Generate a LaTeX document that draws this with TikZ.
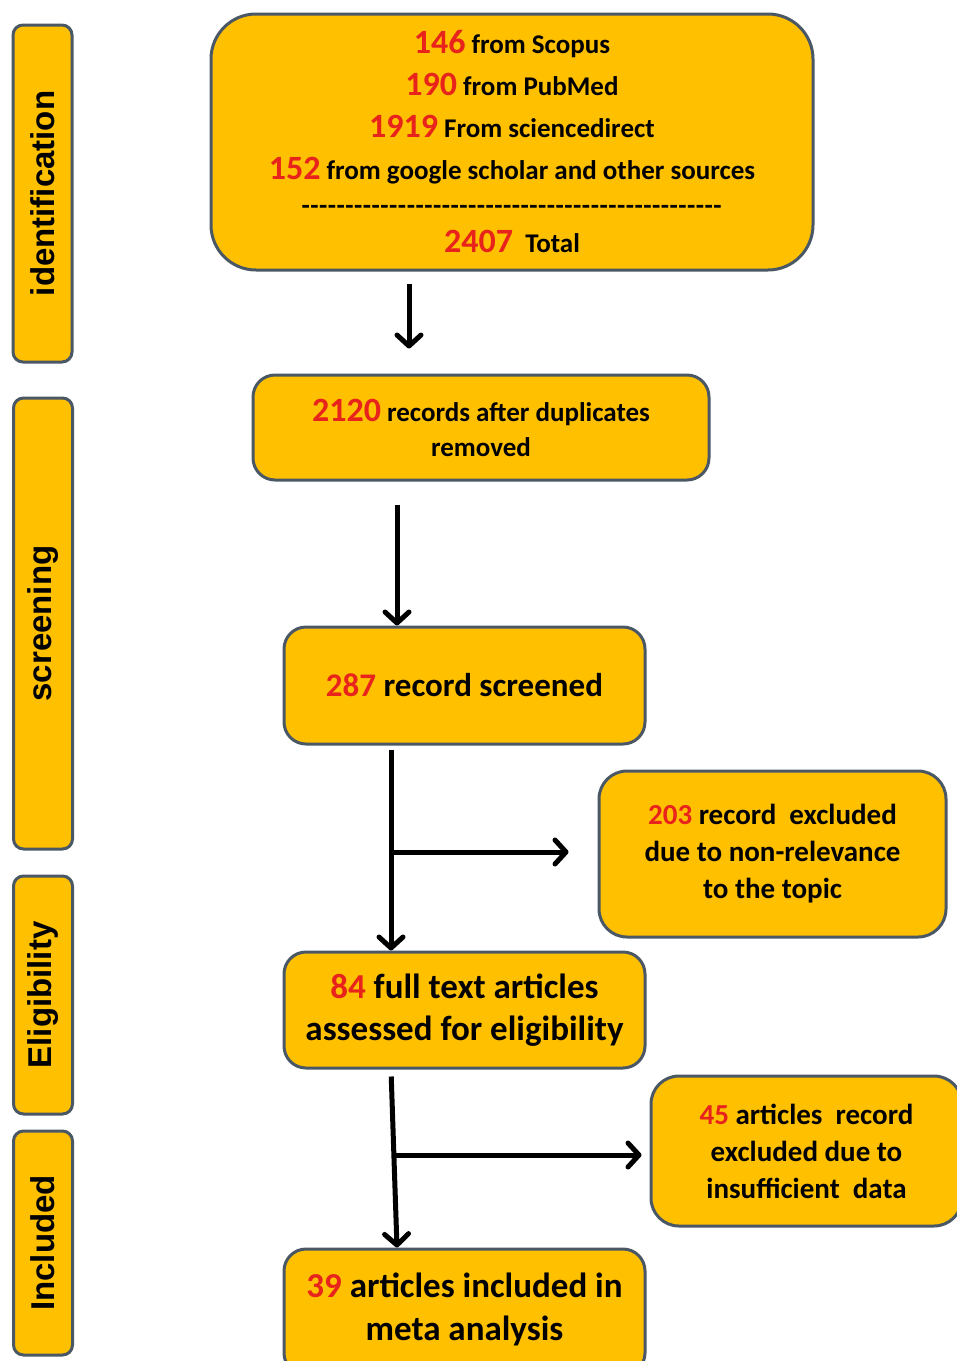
\documentclass[tikz,border=0pt]{standalone}
\usepackage{fontspec}
\setmainfont{Carlito}
\newfontfamily\barfont{Liberation Sans}
\usetikzlibrary{arrows.meta}
\definecolor{gold}{HTML}{FFC000}
\definecolor{edgegray}{HTML}{4A5866}
\definecolor{numred}{HTML}{E8231C}
\newcommand\nm[2]{{\fontsize{#1}{#1}\selectfont\color{numred}#2}}
\newcommand\dashrow{\foreach \i in {1,...,48}{-\kern0.5pt}}
\newcommand\fs[2]{\bfseries\fontsize{#1}{#2}\selectfont}
\begin{document}
\begin{tikzpicture}[x=1pt,y=-1pt,
  box/.style={draw=edgegray, line width=3pt, fill=gold, rounded corners=22pt,
    align=center, inner sep=0pt},
  bar/.style={box, rounded corners=10pt, rotate=90,
    font=\barfont\bfseries\fontsize{33}{33}\selectfont},
  arr/.style={line width=5pt, -{Straight Barb[round, length=11pt, width=24pt]}}]
\clip (0,0) rectangle (957,1361);
\fill[white] (0,0) rectangle (957,1361);
% phase bars
\node[bar, minimum width=337pt, minimum height=59pt] (b1) at (42.5,193.5) {identification};
\node[bar, minimum width=451pt, minimum height=59pt] (b2) at (43,623.5) {screening};
\node[bar, minimum width=238pt, minimum height=59pt] (b3) at (43,995) {Eligibility};
\node[bar, minimum width=224pt, minimum height=59pt] (b4) at (43,1243) {Included};
% boxes
\node[box, rounded corners=45pt, minimum width=602pt, minimum height=256pt, font=\fs{27}{42}] (src) at (512,142)
 {\nm{34}{146} from Scopus\\
  \nm{34}{190} from PubMed\\
  \nm{34}{1919} From sciencedirect\\
  \nm{34}{152} from google scholar and other sources\\[-7pt]
  \dashrow\\[-4pt]
  \nm{34}{2407}\ \ Total};
\node[box, minimum width=456pt, minimum height=105pt, font=\fs{27}{35}] (dup) at (481,427.5)
 {\nm{34}{2120} records after duplicates\\ removed};
\node[box, minimum width=361pt, minimum height=117pt, font=\fs{33}{40}] (scr) at (464.5,685.5)
 {\nm{33}{287} record screened};
\node[box, rounded corners=28pt, minimum width=347pt, minimum height=166pt, font=\fs{29}{37}] (exc1) at (772.5,854)
 {\nm{29}{203} record\ \ excluded\\ due to non-relevance\\ to the topic};
\node[box, minimum width=361pt, minimum height=116pt, font=\fs{35}{42}] (full) at (464.5,1010)
 {\nm{35}{84} full text articles\\ assessed for eligibility};
\node[box, rounded corners=28pt, minimum width=311pt, minimum height=150pt, font=\fs{29}{37}] (exc2) at (806.5,1151)
 {\nm{29}{45} articles\ \ record\\ excluded due to\\ insufficient\ \ data};
\node[box, minimum width=361pt, minimum height=126pt, font=\fs{35}{43}] (incl) at (464.5,1312)
 {\nm{35}{39} articles included in\\ meta analysis\rule[-11pt]{0pt}{0pt}};
% connector coordinates
\coordinate (c1) at (409,0);
\coordinate (c2) at (397,0);
\coordinate (c3) at (391,0);
\coordinate (c4) at (397,0);
\coordinate (j1) at (391,852);
\coordinate (j2) at (394,1155);
% connectors
\draw[arr, shorten <=12pt, shorten >=25pt] (src.south -| c1) -- (dup.north -| c1);
\draw[arr, shorten <=23pt] (dup.south -| c2) -- (scr.north -| c2);
\draw[arr, shorten <=4pt] (scr.south -| c3) -- (full.north -| c3);
\draw[arr, shorten >=29pt] (j1) -- (j1 -| exc1.west);
\draw[arr, shorten <=7pt] (full.south -| c3) -- (incl.north -| c4);
\draw[arr, shorten >=8pt] (j2) -- (j2 -| exc2.west);
\end{tikzpicture}
\end{document}
